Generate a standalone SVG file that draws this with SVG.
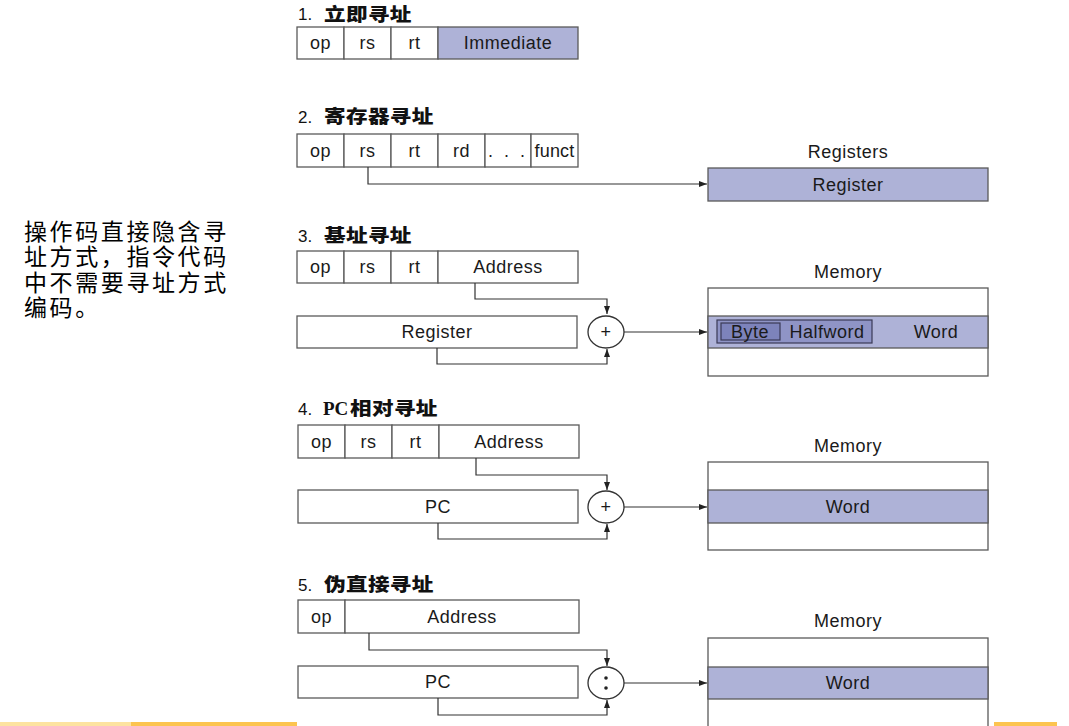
<svg xmlns="http://www.w3.org/2000/svg" width="1069" height="726" viewBox="0 0 1069 726">
<defs>
<style>
.cell{fill:#ffffff;stroke:#5a5a5a;stroke-width:1.3}
.fill{fill:#aeb2d7;stroke:#5a5a5a;stroke-width:1.3}
.lbl{font-family:"Liberation Sans",Arial,sans-serif;font-size:18px;letter-spacing:0.5px;fill:#1a1a1a;text-anchor:middle}
.ttl{font-family:"Liberation Sans",Arial,sans-serif;font-size:17px;fill:#111}
.cjk{font-family:"Noto Sans CJK SC",sans-serif;font-weight:900;font-size:18px;letter-spacing:0.3px;fill:#111}
.note{font-family:"Noto Sans CJK SC",sans-serif;font-size:23px;letter-spacing:2.6px;fill:#000}
.wire{fill:none;stroke:#333;stroke-width:1.2}
.adder{fill:#fff;stroke:#333;stroke-width:1.3}
</style>
<marker id="arr" viewBox="0 0 8 6" refX="8" refY="3" markerWidth="8" markerHeight="6" markerUnits="userSpaceOnUse" orient="auto">
<path d="M0,0 L8,3 L0,6 z" fill="#222"/>
</marker>
</defs>
<rect width="1069" height="726" fill="#ffffff"/>

<g id="note">
<text class="note" x="24" y="240">操作码直接隐含寻</text>
<text class="note" x="24" y="265">址方式，指令代码</text>
<text class="note" x="24" y="291">中不需要寻址方式</text>
<text class="note" x="24" y="316">编码。</text>
</g>

<g id="title1"><text class="ttl" x="298" y="20">1.</text><text class="cjk" transform="translate(324,21) scale(1.2,1)">立即寻址</text></g>
<g id="title2"><text class="ttl" x="298" y="123">2.</text><text class="cjk" transform="translate(324,123) scale(1.2,1)">寄存器寻址</text></g>
<g id="title3"><text class="ttl" x="298" y="242">3.</text><text class="cjk" transform="translate(324,242) scale(1.2,1)">基址寻址</text></g>
<g id="title4"><text class="ttl" x="298" y="415">4.</text><text x="323" y="415" style="font-family:'Liberation Serif',serif;font-weight:bold;font-size:19px;fill:#111">PC</text><text class="cjk" transform="translate(350,415) scale(1.2,1)">相对寻址</text></g>
<g id="title5"><text class="ttl" x="298" y="591">5.</text><text class="cjk" transform="translate(324,591) scale(1.2,1)">伪直接寻址</text></g>

<g id="instr1">
<rect class="cell" x="297" y="27" width="47" height="32"/><text class="lbl" x="320.5" y="49">op</text>
<rect class="cell" x="344" y="27" width="47" height="32"/><text class="lbl" x="367.5" y="49">rs</text>
<rect class="cell" x="391" y="27" width="47" height="32"/><text class="lbl" x="414.5" y="49">rt</text>
<rect class="fill" x="438" y="27" width="140" height="32"/><text class="lbl" x="508" y="49">Immediate</text>
</g>

<g id="instr2">
<rect class="cell" x="297" y="134" width="47" height="33"/><text class="lbl" x="320.5" y="157">op</text>
<rect class="cell" x="344" y="134" width="47" height="33"/><text class="lbl" x="367.5" y="157">rs</text>
<rect class="cell" x="391" y="134" width="47" height="33"/><text class="lbl" x="414.5" y="157">rt</text>
<rect class="cell" x="438" y="134" width="47" height="33"/><text class="lbl" x="461.5" y="157">rd</text>
<rect class="cell" x="485" y="134" width="46" height="33"/><text class="lbl" x="508" y="157" style="letter-spacing:3px">. . .</text>
<rect class="cell" x="531" y="134" width="47" height="33"/><text class="lbl" x="554.5" y="157" style="letter-spacing:0.2px">funct</text>
</g>
<g id="registers">
<text class="lbl" x="848" y="158">Registers</text>
<rect class="fill" x="708" y="168" width="280" height="33"/><text class="lbl" x="848" y="191">Register</text>
</g>

<g id="instr3">
<rect class="cell" x="297" y="251" width="47" height="32"/><text class="lbl" x="320.5" y="273">op</text>
<rect class="cell" x="344" y="251" width="47" height="32"/><text class="lbl" x="367.5" y="273">rs</text>
<rect class="cell" x="391" y="251" width="47" height="32"/><text class="lbl" x="414.5" y="273">rt</text>
<rect class="cell" x="438" y="251" width="140" height="32"/><text class="lbl" x="508" y="273">Address</text>
</g>
<g id="base3"><rect class="cell" x="297" y="316" width="280" height="32"/><text class="lbl" x="437" y="338">Register</text></g>
<g id="adder3"><ellipse class="adder" cx="606" cy="332" rx="18" ry="16"/><text class="lbl" x="606" y="338">+</text></g>
<g id="memory3">
<text class="lbl" x="848" y="278">Memory</text>
<rect class="cell" x="708" y="288" width="280" height="88"/>
<rect class="fill" x="708" y="316" width="280" height="32"/>
<rect x="717" y="320" width="155" height="23" fill="#8f94c6" stroke="#3a3a55" stroke-width="1.2"/>
<rect x="721" y="323" width="59" height="17" fill="#7d83bb" stroke="#3a3a55" stroke-width="1.2"/>
<text class="lbl" x="750" y="338">Byte</text>
<text class="lbl" x="827" y="338">Halfword</text>
<text class="lbl" x="936" y="338">Word</text>
</g>

<g id="instr4">
<rect class="cell" x="298" y="425" width="47" height="33"/><text class="lbl" x="321.5" y="448">op</text>
<rect class="cell" x="345" y="425" width="47" height="33"/><text class="lbl" x="368.5" y="448">rs</text>
<rect class="cell" x="392" y="425" width="47" height="33"/><text class="lbl" x="415.5" y="448">rt</text>
<rect class="cell" x="439" y="425" width="140" height="33"/><text class="lbl" x="509" y="448">Address</text>
</g>
<g id="pc4"><rect class="cell" x="298" y="490" width="280" height="33"/><text class="lbl" x="438" y="513">PC</text></g>
<g id="adder4"><ellipse class="adder" cx="606" cy="507" rx="18" ry="16"/><text class="lbl" x="606" y="513">+</text></g>
<g id="memory4">
<text class="lbl" x="848" y="452">Memory</text>
<rect class="cell" x="708" y="462" width="280" height="88"/>
<rect class="fill" x="708" y="490" width="280" height="33"/>
<text class="lbl" x="848" y="513">Word</text>
</g>

<g id="instr5">
<rect class="cell" x="298" y="600" width="47" height="33"/><text class="lbl" x="321.5" y="623">op</text>
<rect class="cell" x="345" y="600" width="234" height="33"/><text class="lbl" x="462" y="623">Address</text>
</g>
<g id="pc5"><rect class="cell" x="298" y="666" width="280" height="32"/><text class="lbl" x="438" y="688">PC</text></g>
<g id="concat5"><ellipse class="adder" cx="606" cy="683" rx="18" ry="16"/><circle cx="606" cy="678" r="1.8" fill="#222"/><circle cx="606" cy="688" r="1.8" fill="#222"/></g>
<g id="memory5">
<text class="lbl" x="848" y="627">Memory</text>
<rect class="cell" x="708" y="638" width="280" height="92"/>
<rect class="fill" x="708" y="667" width="280" height="32"/>
<text class="lbl" x="848" y="689">Word</text>
</g>

<g id="connectors">
<path class="wire" d="M368,167 V184 H707" marker-end="url(#arr)"/>
<path class="wire" d="M475,283 V299 H607 V314" marker-end="url(#arr)"/>
<path class="wire" d="M437,348 V364 H607 V349" marker-end="url(#arr)"/>
<path class="wire" d="M624,332 H707" marker-end="url(#arr)"/>
<path class="wire" d="M476,458 V475 H607 V490" marker-end="url(#arr)"/>
<path class="wire" d="M438,523 V539 H607 V524" marker-end="url(#arr)"/>
<path class="wire" d="M624,507 H707" marker-end="url(#arr)"/>
<path class="wire" d="M369,633 V650 H607 V666" marker-end="url(#arr)"/>
<path class="wire" d="M438,698 V715 H607 V700" marker-end="url(#arr)"/>
<path class="wire" d="M624,683 H707" marker-end="url(#arr)"/>
</g>

<rect x="0" y="722" width="131" height="4" fill="#fde3a0"/>
<rect x="131" y="722" width="166" height="4" fill="#fcc450"/>
<rect x="994" y="722" width="63" height="4" fill="#fcc450"/>
</svg>
